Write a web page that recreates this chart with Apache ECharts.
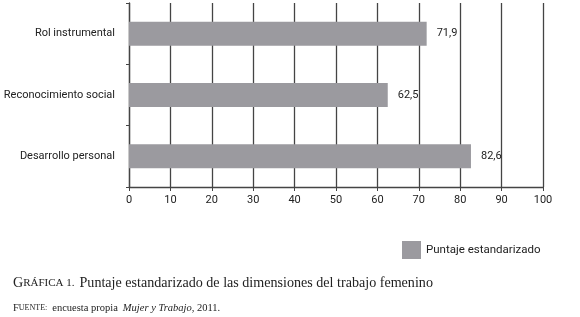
<!DOCTYPE html>
<html><head><meta charset="utf-8">
<script src="https://cdn.jsdelivr.net/npm/echarts@6/dist/echarts.min.js"></script>
<style>html,body{margin:0;padding:0;background:#fff}#c{width:580px;height:317px}</style>
</head><body><div id="c"></div>
<script>
var categories = ["Rol instrumental", "Reconocimiento social", "Desarrollo personal"];
var values = [71.9, 62.5, 82.6];
var seriesName = "Puntaje estandarizado";
var xTicks = [0, 10, 20, 30, 40, 50, 60, 70, 80, 90, 100];

var chart = echarts.init(document.getElementById('c'), null, {renderer: 'canvas'});
var sans = "Roboto, sans-serif";
var serif = "'Liberation Serif', 'DejaVu Serif', serif";
function rs(size, extra) {
  var o = {fontFamily: serif, fontSize: size, color: '#222', fontWeight: 'normal'};
  if (extra) for (var k in extra) o[k] = extra[k];
  return o;
}
chart.setOption({
  animation: false,
  grid: {left: 129, right: 37, top: 3, bottom: 130, outerBoundsMode: 'none', containLabel: false},
  legend: {
    data: [seriesName], left: 397, top: 236, itemWidth: 19, itemHeight: 18, itemGap: 6,
    icon: 'rect',
    textStyle: {fontFamily: sans, fontSize: 11.5, color: '#222'}
  },
  title: [{
    left: 8, top: 269,
    text: '{a|G}{b|RÁFICA 1.} {a|Puntaje estandarizado de las dimensiones del trabajo femenino}',
    textStyle: {fontWeight: 'normal', rich: {a: rs(14.1), b: rs(11)}}
  }, {
    left: 8, top: 294,
    text: '{a|F}{b|UENTE:} {c|encuesta propia} {i|Mujer y Trabajo}{c|, 2011.}',
    textStyle: {fontWeight: 'normal', rich: {a: rs(10.5), b: rs(8), c: rs(10.5), i: rs(10.5, {fontStyle: 'italic'})}}
  }],
  xAxis: {
    type: 'value', min: xTicks[0], max: xTicks[xTicks.length - 1], interval: 10,
    axisLine: {show: true, lineStyle: {color: '#444', width: 1.3}},
    axisTick: {show: true, length: 4, lineStyle: {color: '#444'}},
    splitLine: {show: true, lineStyle: {color: '#444', width: 1.3}},
    axisLabel: {margin: 8, fontFamily: sans, fontSize: 11, color: '#222'}
  },
  yAxis: {
    type: 'category', data: categories, inverse: true,
    axisLine: {show: true, lineStyle: {color: '#444', width: 1.3}},
    axisTick: {show: true, length: 3, lineStyle: {color: '#444'}},
    axisLabel: {margin: 14, fontFamily: sans, fontSize: 11, color: '#222'}
  },
  series: [{
    name: seriesName, type: 'bar', data: values, barWidth: 24,
    itemStyle: {color: '#9b9a9f'},
    label: {show: true, position: 'right', distance: 10, fontFamily: sans, fontSize: 11, color: '#222',
      formatter: function (p) { return p.value.toFixed(1).replace('.', ','); }}
  }]
});
</script></body></html>
